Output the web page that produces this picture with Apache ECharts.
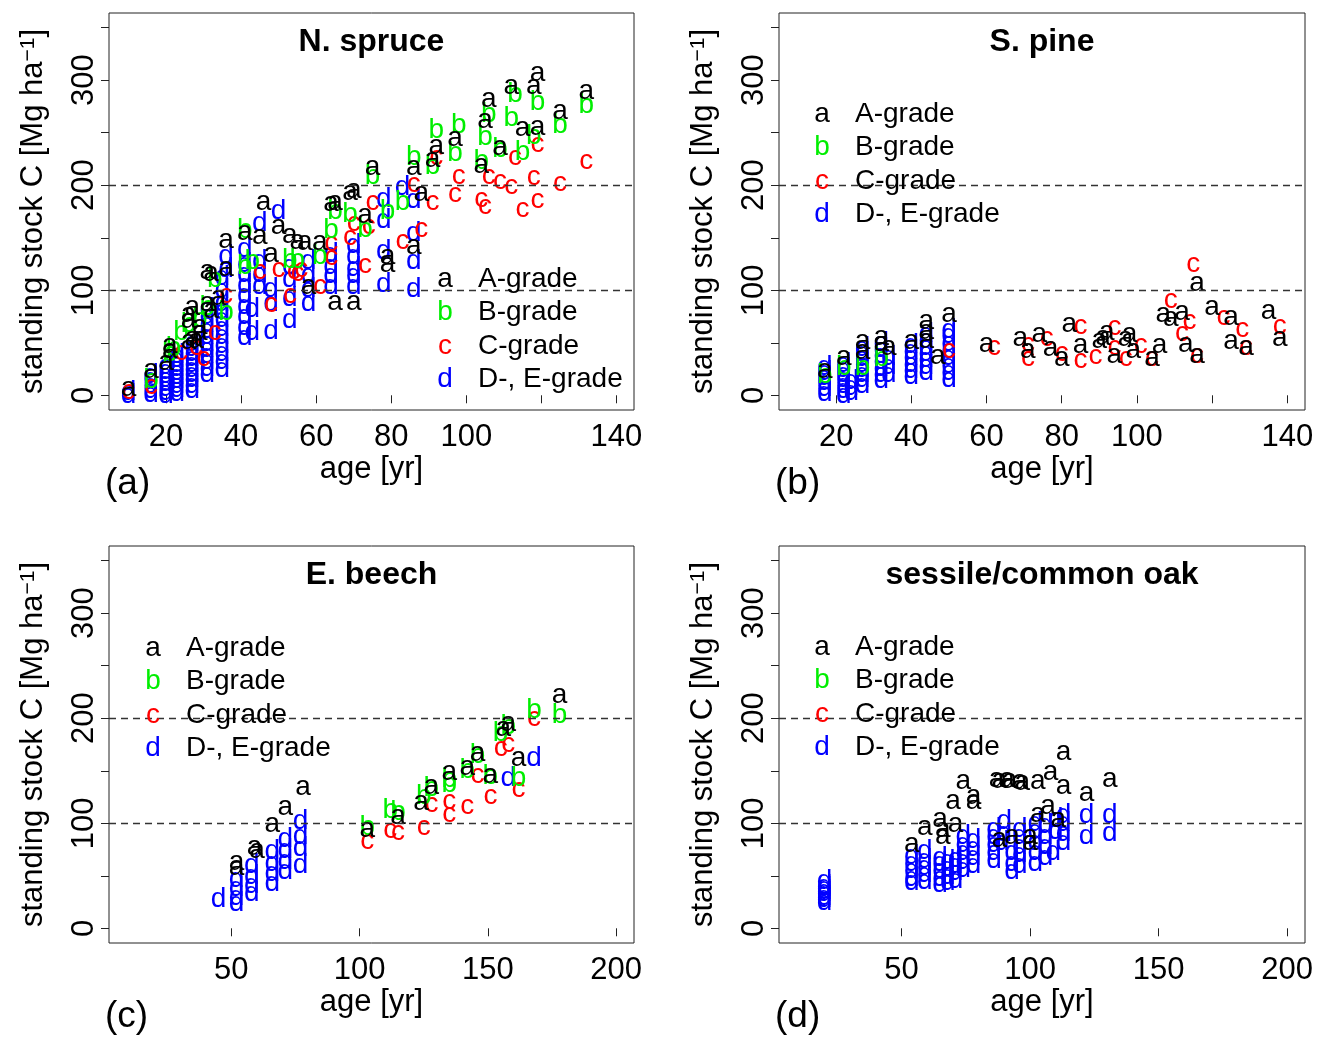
<!DOCTYPE html>
<html>
<head>
<meta charset="utf-8">
<script src="https://cdn.jsdelivr.net/npm/echarts@6/dist/echarts.min.js"></script>
<style>
  html, body { margin: 0; padding: 0; background: #fff; }
  #main { width: 1325px; height: 1037px; }
</style>
</head>
<body>
<div id="main"></div>
<script>
// --- data: [age, standing stock C] per grade ---
var spruceA = [[10,7],[16,24],[21,48],[21,43],[20,31],[26,51],[28,52],[29,60],[27,54],[29,66],[26,71],[27,84],[26,77],[31,88],[32,81],[34,93],[31,118],[32,116],[36,121],[36,148],[41,155],[45,151],[46,184],[50,161],[48,134],[53,152],[55,147],[58,104],[61,146],[57,146],[64,183],[65,184],[69,193],[70,195],[73,171],[75,217],[65,89],[70,89],[79,132],[79,125],[86,142],[86,217],[88,192],[91,225],[92,237],[97,245],[104,219],[105,262],[106,282],[109,236],[112,294],[115,254],[118,294],[119,307],[119,255],[125,270],[132,289]];
var spruceB = [[16,14],[21,40],[22,45],[24,60],[26,68],[29,72],[36,79],[31,84],[33,110],[41,123],[41,157],[43,128],[53,129],[55,129],[61,132],[65,175],[64,157],[69,172],[73,158],[75,209],[79,175],[83,184],[86,227],[91,218],[92,252],[97,230],[98,257],[104,223],[105,246],[106,268],[109,234],[112,264],[113,287],[115,231],[118,247],[119,279],[125,257],[132,276]];
var spruceC = [[10,4],[16,9],[24,41],[28,46],[30,35],[33,60],[36,95],[45,118],[50,120],[54,118],[55,116],[61,104],[56,120],[53,95],[48,87],[69,150],[70,164],[74,161],[75,184],[73,124],[64,145],[64,131],[83,147],[86,201],[88,158],[92,227],[97,191],[98,209],[104,187],[105,180],[106,209],[109,204],[112,199],[113,227],[115,177],[118,208],[119,239],[119,186],[125,202],[132,223],[91,184]];
var spruceD = [[10,0],[10,3],[16,1],[16,5],[16,10],[16,15],[16,19],
  [20,0],[20,3],[20,7],[20,11],[20,15],[20,19],[20,23],[20,28],
  [23,2],[23,6],[23,10],[23,14],[23,18],[23,22],[23,26],[23,30],[23,34],[23,38],
  [27,5],[27,10],[27,15],[27,20],[27,25],[27,30],[27,35],[27,40],[27,45],[27,50],
  [31,20],[31,26],[31,32],[31,38],[31,44],[31,50],[31,56],[31,62],[31,68],[31,75],[31,82],
  [35,25],[35,32],[35,40],[35,48],[35,56],[35,64],[35,72],[35,80],[35,88],[35,100],[35,112],[36,120],[36,132],
  [41,55],[41,65],[41,75],[41,85],[41,95],[41,105],[41,115],[41,125],[41,139],[43,60],[43,82],
  [45,104],[45,115],[45,128],[45,164],[48,61],[48,88],[48,101],[50,175],
  [53,71],[53,92],[53,110],[53,123],[58,88],[58,101],[58,114],[58,128],
  [64,104],[64,114],[64,123],[64,134],[70,104],[70,114],[70,121],[70,132],[70,143],
  [78,106],[78,137],[78,167],[78,187],[83,198],[86,101],[86,128],[86,154],[86,186]];

var pineA = [[17,24],[22,36],[27,51],[27,42],[32,55],[32,50],[34,46],[40,51],[44,70],[44,61],[44,52],[47,37],[50,77],[60,49],[69,54],[71,43],[74,58],[77,45],[80,35],[82,68],[85,48],[90,52],[91,55],[92,60],[94,38],[97,54],[98,58],[99,43],[104,35],[106,48],[107,77],[109,73],[112,79],[113,49],[116,38],[116,107],[120,84],[125,74],[125,51],[129,46],[135,80],[138,54]];
var pineB = [[17,19],[22,27],[27,27],[32,35]];
var pineC = [[50,43],[62,46],[71,49],[71,35],[76,54],[80,40],[85,66],[85,33],[89,37],[94,65],[94,46],[97,35],[101,48],[104,35],[109,90],[112,59],[114,70],[116,38],[115,125],[123,74],[128,63],[129,46],[138,66]];
var pineD = [[17,2],[17,7],[17,12],[17,17],[17,22],[17,27],
  [22,0],[22,5],[22,10],[22,15],[22,20],[22,25],[22,30],[24,3],[24,8],[24,13],
  [27,10],[27,15],[27,20],[27,25],[27,30],[27,35],[27,40],[27,45],
  [32,14],[32,20],[32,26],[32,32],[32,38],[32,44],[32,50],[34,20],[34,28],[34,36],
  [40,18],[40,24],[40,30],[40,36],[40,42],[40,48],
  [44,22],[44,28],[44,34],[44,40],[44,46],[44,52],[44,58],
  [50,15],[50,22],[50,29],[50,36],[50,43],[50,50],[50,57],[50,62]];

var beechA = [[52,63],[52,58],[59,77],[60,74],[66,99],[71,115],[78,134],[103,94],[115,107],[124,120],[128,135],[135,149],[142,153],[146,167],[151,146],[156,190],[158,195],[162,162],[178,222]];
var beechB = [[103,96],[112,112],[115,110],[125,126],[128,133],[135,142],[135,137],[142,150],[146,165],[151,145],[155,186],[158,192],[162,143],[168,208],[178,203]];
var beechC = [[103,83],[112,93],[115,91],[125,96],[128,118],[135,121],[135,109],[142,116],[146,146],[151,126],[155,171],[158,175],[162,132],[168,200]];
var beechD = [[45,28],[52,47],[52,38],[52,30],[52,24],[58,60],[58,50],[58,41],[58,33],[66,73],[66,62],[66,52],[66,43],[71,85],[71,74],[71,64],[71,54],[77,102],[77,88],[77,76],[77,60],[158,143],[168,162]];

var oakA = [[54,80],[59,96],[65,104],[66,94],[66,88],[71,99],[70,121],[74,140],[78,126],[78,121],[87,142],[88,141],[91,142],[92,141],[96,140],[97,139],[103,140],[108,149],[113,168],[113,135],[122,129],[131,142],[103,109],[107,116],[111,104],[100,88],[100,82],[88,85],[93,88]];
var oakB = [];
var oakC = [];
var oakD = [[20,25],[20,28],[20,30],[20,33],[20,35],[20,38],[20,40],[20,45],
  [54,44],[54,48],[54,55],[54,62],[54,69],[59,45],[59,51],[59,58],[59,65],[59,73],
  [65,42],[65,48],[65,55],[65,62],[65,67],[68,44],[68,50],[68,57],[68,64],[71,46],[71,53],[71,60],[71,66],
  [74,56],[74,64],[74,72],[74,80],[74,88],[78,60],[78,68],[78,76],[78,84],
  [86,65],[86,72],[86,80],[86,88],[86,94],[89,82],[90,90],[90,102],[93,54],[93,62],[93,72],
  [96,60],[96,70],[96,78],[96,88],[96,94],[102,62],[102,72],[102,82],[102,92],[102,100],
  [106,68],[106,78],[106,88],[106,98],[109,72],[110,92],[110,104],[113,82],[113,90],[113,100],[113,108],
  [122,88],[122,108],[131,90],[131,108]];

var grades = ['a', 'b', 'c', 'd'];
var gradeNames = ['A-grade', 'B-grade', 'C-grade', 'D-, E-grade'];
var gradeColors = ['#000000', '#00ee00', '#ff0000', '#0000ff'];
var yTicks = [0, 50, 100, 150, 200, 250, 300, 350];
var yLabels = [0, 100, 200, 300];
var xTicksConifer = [20, 40, 60, 80, 100, 120, 140];
var xLabelsConifer = [20, 40, 60, 80, 100, 140];
var xTicksBroadleaf = [50, 100, 150, 200];
var refLines = [100, 200];

var FONT = '"Liberation Sans", Arial, sans-serif';

var panels = [
    {title: 'N. spruce', tag: '(a)', data: [spruceA, spruceB, spruceC, spruceD],
     grid: {left: 109, top: 13, width: 525, height: 397}, xMin: 4.8, xMax: 144.7,
     xTicks: xTicksConifer, xLabels: xLabelsConifer, legend: [445, 279]},
    {title: 'S. pine', tag: '(b)', data: [pineA, pineB, pineC, pineD],
     grid: {left: 779, top: 13, width: 526, height: 397}, xMin: 4.8, xMax: 144.7,
     xTicks: xTicksConifer, xLabels: xLabelsConifer, legend: [822, 114]},
    {title: 'E. beech', tag: '(c)', data: [beechA, beechB, beechC, beechD],
     grid: {left: 109, top: 546, width: 525, height: 397}, xMin: 2.3, xMax: 207,
     xTicks: xTicksBroadleaf, xLabels: xTicksBroadleaf, legend: [153, 648]},
    {title: 'sessile/common oak', tag: '(d)', data: [oakA, oakB, oakC, oakD],
     grid: {left: 779, top: 546, width: 526, height: 397}, xMin: 2.3, xMax: 207,
     xTicks: xTicksBroadleaf, xLabels: xTicksBroadleaf, legend: [822, 647]}
];

var grid = [], xAxis = [], yAxis = [], series = [], title = [], graphic = [];

panels.forEach(function (p, i) {
    grid.push(Object.assign({show: true, borderColor: '#222', borderWidth: 1,
        backgroundColor: 'transparent', containLabel: false}, p.grid));

    xAxis.push({
        type: 'value', gridIndex: i, min: p.xMin, max: p.xMax,
        name: 'age [yr]', nameLocation: 'middle', nameGap: 44,
        nameTextStyle: {fontSize: 31, color: '#000', fontFamily: FONT},
        axisLine: {show: false},
        axisTick: {show: true, length: 8, customValues: p.xTicks, lineStyle: {color: '#222'}},
        axisLabel: {show: true, customValues: p.xLabels, fontSize: 31, color: '#000', margin: 12, fontFamily: FONT},
        splitLine: {show: false}
    });

    yAxis.push({
        type: 'value', gridIndex: i, min: -14, max: 364,
        name: 'standing stock C [Mg ha{sup|\u22121}]', nameLocation: 'middle', nameGap: 60, nameRotate: 90,
        nameTextStyle: {fontSize: 31, color: '#000', fontFamily: FONT,
            rich: {sup: {fontSize: 21, verticalAlign: 'top', color: '#000', fontFamily: FONT}}},
        axisLine: {show: false},
        axisTick: {show: true, length: 8, customValues: yTicks, lineStyle: {color: '#222'}},
        axisLabel: {show: true, customValues: yLabels, rotate: 90, fontSize: 31, color: '#000', margin: 9, fontFamily: FONT},
        splitLine: {show: false}
    });

    title.push({
        text: p.title, left: p.grid.left + p.grid.width / 2, top: p.grid.top + 13,
        textAlign: 'center', padding: 0,
        textStyle: {fontSize: 32, fontWeight: 'bold', color: '#000', fontFamily: FONT}
    });

    // draw d first so a/b/c sit on top
    [3, 2, 1, 0].forEach(function (g) {
        var s = {
            type: 'scatter', xAxisIndex: i, yAxisIndex: i, data: p.data[g],
            symbolSize: 2, silent: true,
            itemStyle: {color: 'rgba(0,0,0,0)', opacity: 1},
            label: {show: true, position: 'inside', formatter: grades[g], color: gradeColors[g],
                opacity: 1, fontSize: 28, fontFamily: FONT}
        };
        if (g === 3) {
            s.markLine = {
                silent: true, symbol: 'none', label: {show: false},
                lineStyle: {type: [7, 5], color: '#333', width: 1.3, opacity: 1},
                data: refLines.map(function (v) { return {yAxis: v}; })
            };
        }
        series.push(s);
    });

    // legend, drawn as text like in the original
    for (var g = 0; g < 4; g++) {
        var ly = p.legend[1] + g * 33.5;
        graphic.push({type: 'text', x: p.legend[0], y: ly, z: 10,
            style: {text: grades[g], fill: gradeColors[g], font: '28px ' + FONT, textAlign: 'center', textVerticalAlign: 'middle'}});
        graphic.push({type: 'text', x: p.legend[0] + 33, y: ly, z: 10,
            style: {text: gradeNames[g], fill: '#000', font: '28px ' + FONT, textAlign: 'left', textVerticalAlign: 'middle'}});
    }

    graphic.push({type: 'text', x: p.grid.left - 4, y: p.grid.top + 471, z: 10,
        style: {text: p.tag, fill: '#000', font: '37px ' + FONT, textAlign: 'left', textVerticalAlign: 'middle'}});
});

var chart = echarts.init(document.getElementById('main'));
chart.setOption({
    backgroundColor: '#fff',
    animation: false,
    title: title,
    grid: grid,
    xAxis: xAxis,
    yAxis: yAxis,
    series: series,
    graphic: graphic
});
</script>
</body>
</html>
